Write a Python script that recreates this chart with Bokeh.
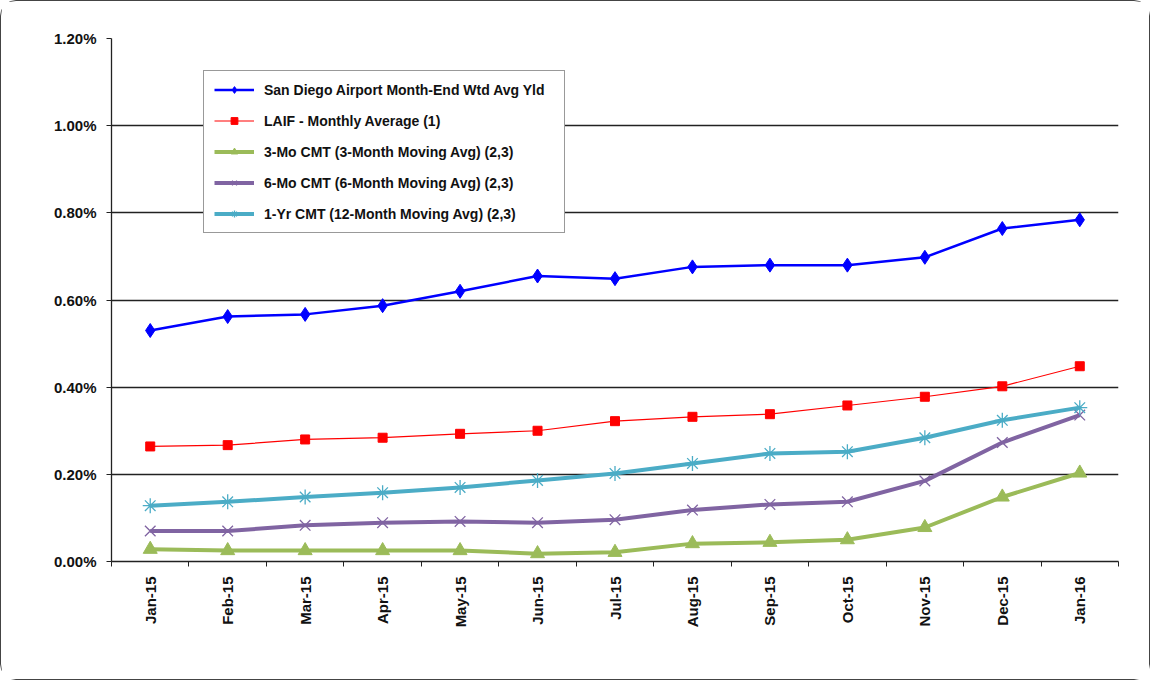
import math
from bokeh.plotting import figure
from bokeh.models import Range1d, FixedTicker, PrintfTickFormatter, Legend, LegendItem
from bokeh.embed import file_html
from bokeh.resources import INLINE

months = ["Jan-15", "Feb-15", "Mar-15", "Apr-15", "May-15", "Jun-15", "Jul-15",
          "Aug-15", "Sep-15", "Oct-15", "Nov-15", "Dec-15", "Jan-16"]
san_diego = [0.530, 0.562, 0.567, 0.587, 0.620, 0.655, 0.649, 0.676, 0.680, 0.680, 0.698, 0.764, 0.784]
laif = [0.264, 0.267, 0.280, 0.284, 0.293, 0.300, 0.322, 0.332, 0.338, 0.358, 0.378, 0.402, 0.448]
cmt_3mo = [0.028, 0.025, 0.025, 0.025, 0.025, 0.018, 0.021, 0.041, 0.044, 0.050, 0.078, 0.148, 0.203]
cmt_6mo = [0.070, 0.070, 0.083, 0.089, 0.092, 0.089, 0.096, 0.118, 0.131, 0.137, 0.185, 0.273, 0.336]
cmt_1yr = [0.128, 0.137, 0.148, 0.158, 0.170, 0.186, 0.202, 0.225, 0.248, 0.252, 0.284, 0.324, 0.353]
y_ticks = [0.0, 0.2, 0.4, 0.6, 0.8, 1.0, 1.2]

labels = ["San Diego Airport Month-End Wtd Avg Yld",
          "LAIF - Monthly Average (1)",
          "3-Mo CMT (3-Month Moving Avg) (2,3)",
          "6-Mo CMT (6-Month Moving Avg) (2,3)",
          "1-Yr CMT (12-Month Moving Avg) (2,3)"]

xs = [i + 0.5 for i in range(len(months))]

p = figure(width=1150, height=680, output_backend="svg", toolbar_location=None,
           x_range=Range1d(0, len(months)), y_range=Range1d(0, 1.2),
           min_border_left=110, min_border_right=33, min_border_top=37, min_border_bottom=120)
p.styles = {"border": "1.3px solid #444", "border-radius": "16px"}
p.outline_line_color = None
p.background_fill_color = "white"
p.border_fill_color = "white"

FONT = "Liberation Sans"

# axes
p.xaxis.ticker = FixedTicker(ticks=xs, minor_ticks=list(range(len(months) + 1)))
p.xaxis.major_label_overrides = {x: m for x, m in zip(xs, months)}
p.xaxis.major_tick_out = 0
p.xaxis.major_tick_in = 0
p.xaxis.minor_tick_out = 5
p.xaxis.minor_tick_in = 0
p.xaxis.minor_tick_line_color = "#222"
p.xaxis.major_label_orientation = math.pi / 2
p.xaxis.major_label_standoff = 10
p.xaxis.major_label_text_font = FONT
p.xaxis.major_label_text_font_size = "15px"
p.xaxis.major_label_text_font_style = "bold"
p.xaxis.major_label_text_color = "#111"
p.xaxis.axis_line_color = "#222"
p.xaxis.axis_line_width = 1.3

p.yaxis.ticker = FixedTicker(ticks=y_ticks)
p.yaxis.formatter = PrintfTickFormatter(format="%.2f%%")
p.yaxis.major_tick_out = 5
p.yaxis.major_tick_in = 0
p.yaxis.minor_tick_line_color = None
p.yaxis.major_tick_line_color = "#222"
p.yaxis.major_label_standoff = 10
p.yaxis.major_label_text_font = FONT
p.yaxis.major_label_text_font_size = "15px"
p.yaxis.major_label_text_font_style = "bold"
p.yaxis.major_label_text_color = "#111"
p.yaxis.axis_line_color = "#222"
p.yaxis.axis_line_width = 1.3

p.xgrid.grid_line_color = None
p.ygrid.ticker = FixedTicker(ticks=y_ticks)
p.ygrid.grid_line_color = "#222"
p.ygrid.grid_line_width = 1.3

# series
items = []
l1 = p.line(xs, san_diego, line_color="#0000FF", line_width=2.5)
m1 = p.scatter(xs, san_diego, marker="diamond", size=14, fill_color="#0000FF", line_color="#0000FF")
items.append(LegendItem(label=labels[0], renderers=[l1, m1]))

l2 = p.line(xs, laif, line_color="#FF0000", line_width=1.2)
m2 = p.scatter(xs, laif, marker="square", size=9, fill_color="#FF0000", line_color="#FF0000")
items.append(LegendItem(label=labels[1], renderers=[l2, m2]))

l3 = p.line(xs, cmt_3mo, line_color="#9BBB59", line_width=4)
m3 = p.scatter(xs, cmt_3mo, marker="triangle", size=14, fill_color="#9BBB59", line_color="#9BBB59")
items.append(LegendItem(label=labels[2], renderers=[l3, m3]))

l4 = p.line(xs, cmt_6mo, line_color="#8064A2", line_width=4)
m4 = p.scatter(xs, cmt_6mo, marker="x", size=15, line_color="#8064A2", line_width=1.3)
items.append(LegendItem(label=labels[3], renderers=[l4, m4]))

l5 = p.line(xs, cmt_1yr, line_color="#4BACC6", line_width=4)
m5 = p.scatter(xs, cmt_1yr, marker="asterisk", size=15, line_color="#4BACC6", line_width=1.3)
items.append(LegendItem(label=labels[4], renderers=[l5, m5]))

legend = Legend(items=items, location=(92, 328))
legend.margin = 0
legend.padding = 10
legend.spacing = 14
legend.label_height = 17
legend.glyph_height = 17
legend.glyph_width = 40
legend.label_standoff = 10
legend.label_width = 290
legend.label_text_font = FONT
legend.label_text_font_size = "14px"
legend.label_text_font_style = "bold"
legend.label_text_color = "#111"
legend.border_line_color = "#333"
legend.border_line_width = 1.2
legend.background_fill_alpha = 1.0
p.add_layout(legend, "center")

open("out.html", "w").write(file_html(p, INLINE))
